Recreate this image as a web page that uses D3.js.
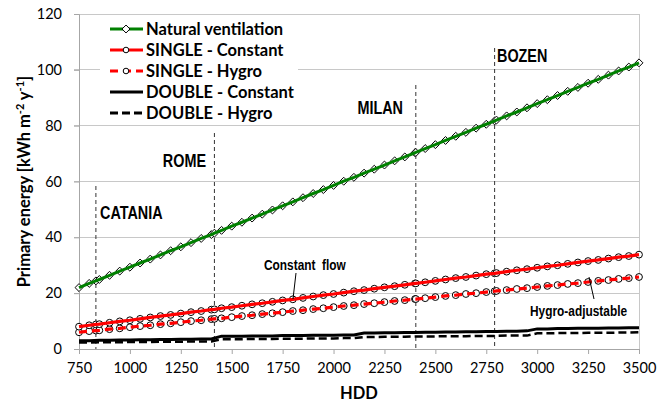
<!DOCTYPE html>
<html><head><meta charset="utf-8">
<script src="https://cdn.jsdelivr.net/npm/d3@7"></script>
<style>body{margin:0;background:#fff}</style>
</head><body>
<svg id="chart" width="670" height="412"></svg>
<script>
const hdd = [750,800,850,900,950,1000,1050,1100,1150,1200,1250,1300,1350,1400,1450,1500,1550,1600,1650,1700,1750,1800,1850,1900,1950,2000,2050,2100,2150,2200,2250,2300,2350,2400,2450,2500,2550,2600,2650,2700,2750,2800,2850,2900,2950,3000,3050,3100,3150,3200,3250,3300,3350,3400,3450,3500];
const natural = [22.0,23.5,24.9,26.4,27.9,29.3,30.8,32.2,33.7,35.2,36.6,38.1,39.6,41.0,42.5,44.0,45.4,46.9,48.3,49.8,51.3,52.7,54.2,55.7,57.1,58.6,60.1,61.5,63.0,64.4,65.9,67.4,68.8,70.3,71.8,73.2,74.7,76.2,77.6,79.1,80.5,82.0,83.5,84.9,86.4,87.9,89.3,90.8,92.3,93.7,95.2,96.6,98.1,99.6,101.0,102.5];
const singleConst = [8.0,8.5,8.9,9.4,9.9,10.3,10.8,11.3,11.8,12.2,12.7,13.2,13.6,14.1,14.6,15.0,15.5,16.0,16.4,16.9,17.4,17.8,18.3,18.8,19.3,19.7,20.2,20.7,21.1,21.6,22.1,22.5,23.0,23.5,23.9,24.4,24.9,25.4,25.8,26.3,26.8,27.2,27.7,28.2,28.6,29.1,29.6,30.0,30.5,31.0,31.5,31.9,32.4,32.9,33.3,33.8];
const singleHygro = [6.0,6.4,6.7,7.1,7.4,7.8,8.2,8.5,8.9,9.2,9.6,10.0,10.3,10.7,11.0,11.4,11.8,12.1,12.5,12.8,13.2,13.6,13.9,14.3,14.6,15.0,15.4,15.7,16.1,16.4,16.8,17.2,17.5,17.9,18.2,18.6,19.0,19.3,19.7,20.0,20.4,20.8,21.1,21.5,21.8,22.2,22.6,22.9,23.3,23.6,24.0,24.4,24.7,25.1,25.4,25.8];
const doubleConst = [3.0,3.0,3.1,3.1,3.2,3.2,3.3,3.3,3.4,3.4,3.5,3.5,3.6,3.6,4.6,4.6,4.6,4.7,4.7,4.7,4.8,4.8,4.8,4.9,4.9,4.9,5.0,5.0,5.7,5.7,5.8,5.8,5.9,5.9,6.0,6.0,6.1,6.1,6.2,6.2,6.3,6.3,6.4,6.4,6.5,7.2,7.2,7.3,7.3,7.4,7.4,7.4,7.5,7.5,7.6,7.6];
const doubleHygro = [2.3,2.3,2.4,2.4,2.4,2.5,2.5,2.5,2.6,2.6,2.6,2.7,2.7,2.7,3.5,3.5,3.5,3.6,3.6,3.6,3.7,3.7,3.7,3.8,3.8,3.8,3.9,3.9,4.3,4.3,4.4,4.4,4.4,4.5,4.5,4.5,4.6,4.6,4.6,4.7,4.7,4.7,4.8,4.8,4.8,5.6,5.6,5.7,5.7,5.7,5.8,5.8,5.8,5.9,5.9,6.0];
const cities = ["CATANIA","ROME","MILAN","BOZEN"];
const cityHDD = [833,1415,2404,2791];
const cityNatural = [24.4,41.5,70.4,81.7];
const citySingleConst = [8.8,14.2,23.5,27.1];
const citySingleHygro = [6.6,10.8,17.9,20.7];
const xTicks = [750,1000,1250,1500,1750,2000,2250,2500,2750,3000,3250,3500];
const yTicks = [0,20,40,60,80,100,120];
const legendLabels = ["Natural ventilation","SINGLE - Constant","SINGLE - Hygro","DOUBLE - Constant","DOUBLE - Hygro"];

const svg = d3.select("#chart");
const L = 79, R = 639, T = 14, B = 349;
const x = d3.scaleLinear().domain([750,3500]).range([L,R]);
const y = d3.scaleLinear().domain([0,120]).range([B,T]);
const tickFont = "Lato, 'Open Sans', sans-serif";
const boldFont = "'Liberation Sans', Arial, sans-serif";

// gridlines
svg.append("g").selectAll("line").data(yTicks).join("line")
  .attr("x1", L-5).attr("x2", R).attr("y1", d=>y(d)).attr("y2", d=>y(d))
  .attr("stroke", "#c8c8c8").attr("stroke-width", 1).attr("shape-rendering","crispEdges");
svg.append("line").attr("x1",R).attr("x2",R).attr("y1",T).attr("y2",B)
  .attr("stroke","#c8c8c8").attr("shape-rendering","crispEdges");
// axes
const xAxis = svg.append("g").attr("transform",`translate(0,${B})`)
  .call(d3.axisBottom(x).tickValues(xTicks).tickSize(5).tickPadding(9).tickFormat(d3.format("d")));
xAxis.select(".domain").attr("stroke","#a6a6a6");
xAxis.selectAll(".tick line").attr("stroke","#a6a6a6");
xAxis.selectAll("text").attr("font-family",tickFont).attr("font-size",14.5).attr("fill","#000");
const yAxis = svg.append("g").attr("transform",`translate(${L},0)`)
  .call(d3.axisLeft(y).tickValues(yTicks).tickSize(5).tickPadding(12));
yAxis.select(".domain").attr("stroke","#a6a6a6");
yAxis.selectAll(".tick line").attr("stroke","#a6a6a6");
yAxis.selectAll("text").attr("font-family",tickFont).attr("font-size",14.5).attr("fill","#000");

// narrow bold text helper
function narrowText(tx, ty, anchor, size, str, sx){
  return svg.append("g").attr("transform",`translate(${tx},${ty}) scale(${sx||0.82},1)`)
    .append("text").attr("dy","0.35em").attr("text-anchor",anchor)
    .attr("font-family",boldFont).attr("font-weight","bold").attr("font-size",size)
    .attr("xml:space","preserve").text(str);
}

// city vertical dashed lines and labels
const cityTop = [186, 133, 85, 48];
const cityLabelPos = [[100,213,"start"],[206,161,"end"],[403,108,"end"],[497,56,"start"]];
cities.forEach((c,i)=>{
  svg.append("line").attr("x1",x(cityHDD[i])).attr("x2",x(cityHDD[i]))
    .attr("y1",cityTop[i]).attr("y2",B)
    .attr("stroke","#333").attr("stroke-width",1).attr("stroke-dasharray","4,3");
  narrowText(cityLabelPos[i][0], cityLabelPos[i][1], cityLabelPos[i][2], 18, c, 0.8);
});

const pts = vals => hdd.map((h,i)=>[h,vals[i]]);
const withCities = (vals, cv) => pts(vals).concat(cityHDD.map((h,i)=>[h,cv[i]])).sort((a,b)=>a[0]-b[0]);
const line = d3.line().x(d=>x(d[0])).y(d=>y(d[1]));

// double lines
svg.append("path").attr("d",line(pts(doubleHygro))).attr("fill","none").attr("stroke","#000")
  .attr("stroke-width",2.5).attr("stroke-dasharray","8,4");
svg.append("path").attr("d",line(pts(doubleConst))).attr("fill","none").attr("stroke","#000")
  .attr("stroke-width",3);

// markers
const diamond = d3.symbol().type(d3.symbolDiamond2).size(40);
function circles(data){
  svg.append("g").selectAll("circle").data(data).join("circle")
    .attr("cx",d=>x(d[0])).attr("cy",d=>y(d[1])).attr("r",3.4)
    .attr("fill","#fff").attr("stroke","#000").attr("stroke-width",1);
}
const natData = withCities(natural, cityNatural);
const scData = withCities(singleConst, citySingleConst);
const shData = withCities(singleHygro, citySingleHygro);
circles(shData);
svg.append("path").attr("d",line(shData)).attr("fill","none").attr("stroke","#ff0000")
  .attr("stroke-width",3.2).attr("stroke-dasharray","8,5");
circles(scData);
svg.append("path").attr("d",line(scData)).attr("fill","none").attr("stroke","#ff0000")
  .attr("stroke-width",3.2);
svg.append("g").selectAll("path").data(natData).join("path")
  .attr("d",diamond).attr("transform",d=>`translate(${x(d[0])},${y(d[1])})`)
  .attr("fill","#fff").attr("stroke","#000").attr("stroke-width",1);
svg.append("path").attr("d",line(natData)).attr("fill","none").attr("stroke","#008000")
  .attr("stroke-width",3);

// annotations
narrowText(264, 265, "start", 14.5, "Constant  flow");
svg.append("line").attr("x1",296).attr("y1",273).attr("x2",293).attr("y2",299).attr("stroke","#000").attr("stroke-width",1);
narrowText(530, 311, "start", 14.5, "Hygro-adjustable");
svg.append("line").attr("x1",589).attr("y1",277).attr("x2",594).attr("y2",299).attr("stroke","#000").attr("stroke-width",1);

// legend
const lg = svg.append("g");
lg.append("rect").attr("x",100).attr("y",18).attr("width",198).attr("height",106).attr("fill","#fff");
const legStyles = [
  {c:"#008000",dash:null,m:"d",w:3},
  {c:"#ff0000",dash:null,m:"c",w:3.2},
  {c:"#ff0000",dash:"8,5",m:"c",w:3.2},
  {c:"#000",dash:null,m:null,w:3},
  {c:"#000",dash:"8,4",m:null,w:3}];
legendLabels.forEach((lab,i)=>{
  const yy = 29 + i*21;
  const s = legStyles[i];
  lg.append("line").attr("x1",110).attr("x2",143).attr("y1",yy).attr("y2",yy)
    .attr("stroke",s.c).attr("stroke-width",s.w).attr("stroke-dasharray",s.dash);
  if (s.m==="d") lg.append("path").attr("d",diamond).attr("transform",`translate(126,${yy})`)
    .attr("fill","#fff").attr("stroke","#000");
  if (s.m==="c") lg.append("circle").attr("cx",126).attr("cy",yy).attr("r",2.8)
    .attr("fill","#fff").attr("stroke","#000");
  lg.append("text").attr("x",146).attr("y",yy).attr("dy","0.35em").attr("font-family",tickFont)
    .attr("font-weight","bold").attr("font-size",16.5).text(lab);
});

// axis titles
svg.append("text").attr("x",(L+R)/2).attr("y",399).attr("text-anchor","middle")
  .attr("font-family",tickFont).attr("font-weight","bold").attr("font-size",16.5).text("HDD");
const yt = svg.append("text").attr("transform",`translate(30,${(T+B)/2}) rotate(-90)`)
  .attr("text-anchor","middle").attr("font-family",tickFont).attr("font-weight","bold").attr("font-size",16.5);
yt.append("tspan").text("Primary energy [kWh m");
yt.append("tspan").attr("dy",-6).attr("font-size",11).text("-2");
yt.append("tspan").attr("dy",6).text(" y");
yt.append("tspan").attr("dy",-6).attr("font-size",11).text("-1");
yt.append("tspan").attr("dy",6).text("]");
</script>
</body></html>
